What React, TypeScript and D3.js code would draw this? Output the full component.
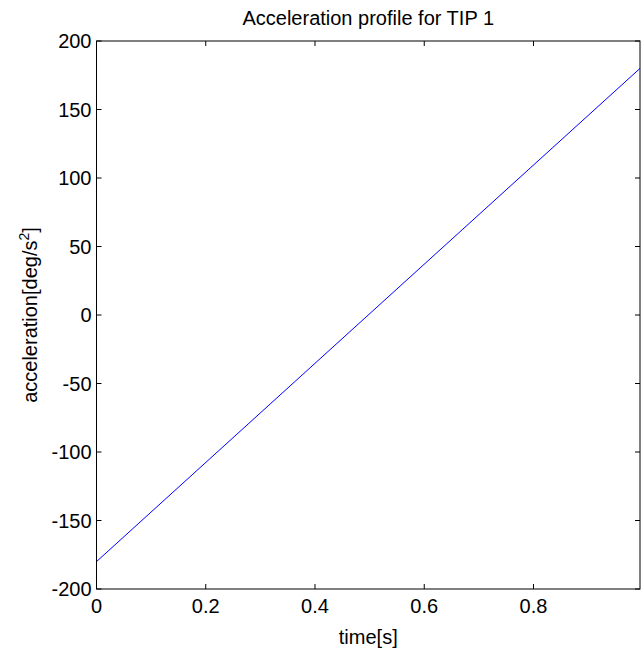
import React, { useEffect, useRef } from 'react';
import * as d3 from 'd3';

// time [s] and acceleration [deg/s^2]
const timeValues = [0, 0.995];
const accelValues = [-180, 180];
const xTicks = [0, 0.2, 0.4, 0.6, 0.8];
const yTicks = [-200, -150, -100, -50, 0, 50, 100, 150, 200];

const App = () => {
  const svgRef = useRef<SVGSVGElement | null>(null);

  useEffect(() => {
    document.body.style.margin = '0';
    if (!svgRef.current) return;

    const width = 641;
    const height = 648;
    const margin = { top: 41, right: 1, bottom: 59, left: 96.5 };
    const font = '"Liberation Sans", Arial, sans-serif';
    const fontSize = 20;

    const svg = d3.select(svgRef.current);
    svg.selectAll('*').remove();
    svg.attr('width', width).attr('height', height);

    const x = d3.scaleLinear()
      .domain([0, 0.995])
      .range([margin.left, width - margin.right]);
    const y = d3.scaleLinear()
      .domain([-200, 200])
      .range([height - margin.bottom, margin.top]);

    svg.append('rect')
      .attr('width', width).attr('height', height).attr('fill', '#fff');

    // data line
    const line = d3.line<number>()
      .x((d, i) => x(timeValues[i]))
      .y(d => y(d));
    svg.append('path')
      .datum(accelValues)
      .attr('d', line)
      .attr('fill', 'none')
      .attr('stroke', '#0000ff')
      .attr('stroke-width', 1);

    // box
    const [x0, x1] = x.range();
    const [y0, y1] = y.range();
    svg.append('rect')
      .attr('x', x0).attr('y', y1)
      .attr('width', x1 - x0).attr('height', y0 - y1)
      .attr('fill', 'none')
      .attr('stroke', '#000')
      .attr('stroke-width', 1);

    const tickLen = 5;
    const ticks = svg.append('g').attr('stroke', '#000').attr('stroke-width', 1);

    // inward ticks on all four sides
    xTicks.forEach(t => {
      ticks.append('line').attr('x1', x(t)).attr('x2', x(t)).attr('y1', y0).attr('y2', y0 - tickLen);
      ticks.append('line').attr('x1', x(t)).attr('x2', x(t)).attr('y1', y1).attr('y2', y1 + tickLen);
    });
    yTicks.forEach(v => {
      ticks.append('line').attr('x1', x0).attr('x2', x0 + tickLen).attr('y1', y(v)).attr('y2', y(v));
      ticks.append('line').attr('x1', x1).attr('x2', x1 - tickLen).attr('y1', y(v)).attr('y2', y(v));
    });

    const labels = svg.append('g')
      .attr('font-family', font)
      .attr('font-size', fontSize)
      .attr('fill', '#000');

    xTicks.forEach(t => {
      labels.append('text')
        .attr('x', x(t))
        .attr('y', y0 + 24)
        .attr('text-anchor', 'middle')
        .text(d3.format('~g')(t));
    });
    yTicks.forEach(v => {
      labels.append('text')
        .attr('x', x0 - 5)
        .attr('y', y(v) + 7)
        .attr('text-anchor', 'end')
        .text(v);
    });

    // title and axis labels
    labels.append('text')
      .attr('x', (x0 + x1) / 2)
      .attr('y', 25)
      .attr('text-anchor', 'middle')
      .text('Acceleration profile for TIP 1');

    labels.append('text')
      .attr('x', (x0 + x1) / 2)
      .attr('y', 644)
      .attr('text-anchor', 'middle')
      .text('time[s]');

    const ylab = labels.append('text')
      .attr('transform', 'rotate(-90)')
      .attr('x', -(y0 + y1) / 2)
      .attr('y', 37)
      .attr('text-anchor', 'middle');
    ylab.append('tspan').text('acceleration[deg/s');
    ylab.append('tspan').attr('font-size', fontSize * 0.7).attr('dy', -8).text('2');
    ylab.append('tspan').attr('dy', 8).text(']');
  }, []);

  return <svg ref={svgRef} style={{ display: 'block' }}></svg>;
};

export default App;
